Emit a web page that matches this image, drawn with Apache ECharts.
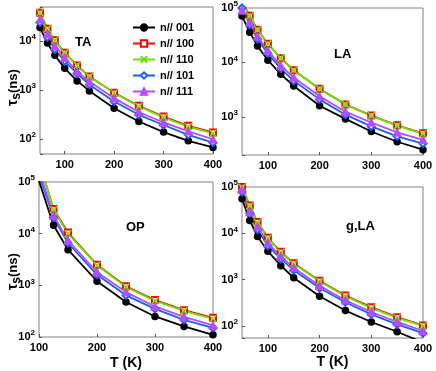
<!DOCTYPE html>
<html>
<head>
<meta charset="utf-8">
<script src="https://cdn.jsdelivr.net/npm/echarts@6/dist/echarts.min.js"></script>
<style>
html,body{margin:0;padding:0;background:#fff;}
#main{width:436px;height:371px;}
</style>
</head>
<body>
<div id="main"></div>
<script>
// temperatures (K)
var T1 = [50, 65, 80, 100, 125, 150, 200, 250, 300, 350, 400];
var T2 = [100, 125, 150, 200, 250, 300, 350, 400];
var names = ['n// 001', 'n// 100', 'n// 110', 'n// 101', 'n// 111'];
var xTicks = [100, 200, 300, 400];

// TA
var ta001 = [19000, 9200, 5200, 2800, 1550, 970, 430, 230, 140, 93, 68];
var ta100 = [38000, 18000, 10500, 5800, 3200, 1900, 890, 480, 290, 188, 138];
var ta110 = [38000, 18000, 10500, 5800, 3200, 1900, 880, 470, 280, 180, 132];
var ta101 = [24000, 12000, 6800, 3900, 2200, 1300, 590, 315, 195, 123, 85];
var ta111 = [28000, 14000, 7900, 4600, 2400, 1500, 690, 360, 220, 145, 100];
// LA
var la001 = [71000, 36000, 20000, 11000, 6100, 3700, 1600, 920, 540, 350, 250];
var la100 = [130000, 72000, 40000, 22000, 12000, 7200, 3300, 1700, 1060, 700, 500];
var la110 = [130000, 71000, 40000, 22000, 12000, 7200, 3300, 1700, 1050, 690, 490];
var la101 = [100000, 49000, 27000, 14700, 7700, 4600, 2100, 1100, 670, 440, 325];
var la111 = [90000, 55000, 30000, 16500, 8700, 5300, 2400, 1250, 790, 520, 380];
// OP
var op001 = [105000, 14500, 4900, 1200, 475, 250, 160, 110];
var op100 = [250000, 30000, 10500, 2500, 960, 520, 330, 235];
var op110 = [250000, 29000, 10000, 2450, 930, 500, 320, 225];
var op101 = [140000, 20500, 6600, 1600, 640, 350, 215, 150];
var op111 = [170000, 22500, 7400, 1800, 740, 390, 245, 168];
// g,LA
var gla001 = [56000, 19000, 8500, 4100, 2000, 1100, 440, 215, 122, 75, 44];
var gla100 = [100000, 40000, 17500, 8000, 4000, 2250, 950, 455, 255, 155, 103];
var gla110 = [99000, 39000, 17000, 7800, 3900, 2200, 920, 440, 245, 150, 100];
var gla101 = [78000, 27000, 12000, 5400, 2800, 1600, 660, 325, 178, 108, 70];
var gla111 = [88000, 29000, 14000, 6100, 3200, 1800, 740, 360, 200, 122, 78];

var FONT = '"Liberation Sans", Arial, sans-serif';

var panels = [
	{title: 'TA', x: T1, ys: [ta001, ta100, ta110, ta101, ta111], xmin: 50, ymin: 50, ymax: 50000,
	 grid: {left: 40, top: 7, width: 173, height: 147}, tl: [75, 36], yname: [4, 106], xname: false},
	{title: 'LA', x: T1, ys: [la001, la100, la110, la101, la111], xmin: 50, ymin: 200, ymax: 100000,
	 grid: {left: 242, top: 8, width: 181, height: 147}, tl: [334, 48], yname: null, xname: false},
	{title: 'OP', x: T2, ys: [op001, op100, op110, op101, op111], xmin: 100, ymin: 100, ymax: 100000,
	 grid: {left: 39, top: 182, width: 174, height: 156}, tl: [126, 221], yname: [4, 290], xname: true},
	{title: 'g,LA', x: T1, ys: [gla001, gla100, gla110, gla101, gla111], xmin: 50, ymin: 55, ymax: 100000,
	 grid: {left: 242, top: 187, width: 181, height: 151}, tl: [346, 220], yname: null, xname: true}
];

var looks = [
	{color: '#000000', symbol: 'circle', size: 6},
	{color: '#ff0000', symbol: 'emptyRect', size: 6},
	{color: '#66e600', symbol: 'path://M0,0L10,10M10,0L0,10', size: 7},
	{color: '#1f5bff', symbol: 'emptyDiamond', size: 7},
	{color: '#b44dff', symbol: 'triangle', size: 7}
];

function pairs(xs, ys) {
	return xs.map(function (x, i) { return [x, ys[i]]; });
}

// 10^n labels
function powLabel(v) {
	var l = Math.log(v) / Math.LN10;
	var e = Math.round(l);
	if (Math.abs(l - e) > 1e-6) return '';
	return '{b|10}{e|' + e + '}';
}

var grids = [], xAxes = [], yAxes = [], series = [], titles = [], texts = [];

panels.forEach(function (p, k) {
	grids.push({left: p.grid.left, top: p.grid.top, width: p.grid.width, height: p.grid.height,
		show: true, borderColor: '#808080', borderWidth: 1});
	titles.push({text: p.title, left: p.tl[0], top: p.tl[1], padding: 0,
		textStyle: {fontFamily: FONT, fontWeight: 'bold', fontSize: 13, color: '#000'}});
	if (p.yname) {
		// tau_s (ns), turned to read upward
		texts.push({
			type: 'text', x: p.yname[0], y: p.yname[1], rotation: Math.PI / 2,
			style: {
				text: '{t|τ}{s|s}{n|(ns)}', fill: '#000',
				rich: {
					t: {fontFamily: FONT, fontWeight: 'bold', fontSize: 14, fill: '#000'},
					s: {fontFamily: FONT, fontWeight: 'bold', fontSize: 12, fill: '#000', padding: [7, 0, 0, 0]},
					n: {fontFamily: FONT, fontWeight: 'bold', fontSize: 13, fill: '#000'}
				}
			}
		});
	}
	xAxes.push({
		type: 'value', gridIndex: k, min: p.xmin, max: 400,
		axisLine: {show: false},
		axisTick: {inside: true, length: 3, customValues: xTicks, lineStyle: {color: '#555'}},
		axisLabel: {customValues: xTicks, margin: 5, fontFamily: FONT, fontWeight: 'bold', fontSize: 11, color: '#000'},
		splitLine: {show: false},
		name: p.xname ? 'T (K)' : '', nameLocation: 'middle', nameGap: k == 2 ? 19 : 15,
		nameTextStyle: {fontFamily: FONT, fontWeight: 'bold', fontSize: 14, color: '#000'}
	});
	yAxes.push({
		type: 'log', logBase: 10, gridIndex: k, min: p.ymin, max: p.ymax,
		axisLine: {show: false},
		axisTick: {inside: true, length: 3, lineStyle: {color: '#555'}},
		splitLine: {show: false},
		axisLabel: {
			margin: 4, formatter: powLabel, color: '#000',
			rich: {
				b: {fontFamily: FONT, fontWeight: 'bold', fontSize: 11, color: '#000'},
				e: {fontFamily: FONT, fontWeight: 'bold', fontSize: 8, color: '#000', padding: [0, 0, 8, 0]}
			}
		}
	});
	p.ys.forEach(function (ys, j) {
		var lk = looks[j];
		series.push({
			name: names[j], type: 'line', xAxisIndex: k, yAxisIndex: k,
			data: pairs(p.x, ys),
			symbol: lk.symbol, symbolSize: lk.size, showAllSymbol: true,
			lineStyle: {color: lk.color, width: 1.8},
			itemStyle: {color: lk.color, borderColor: lk.color, borderWidth: 1.5},
			clip: true, animation: false
		});
	});
});

var myChart = echarts.init(document.getElementById('main'));
myChart.setOption({
	animation: false,
	title: titles,
	graphic: texts,
	legend: {
		data: names, orient: 'vertical', left: 132, top: 22, padding: 0,
		itemWidth: 22, itemHeight: 8, itemGap: 5,
		textStyle: {fontFamily: FONT, fontWeight: 'bold', fontSize: 11, color: '#000'}
	},
	grid: grids,
	xAxis: xAxes,
	yAxis: yAxes,
	series: series
});
</script>
</body>
</html>
